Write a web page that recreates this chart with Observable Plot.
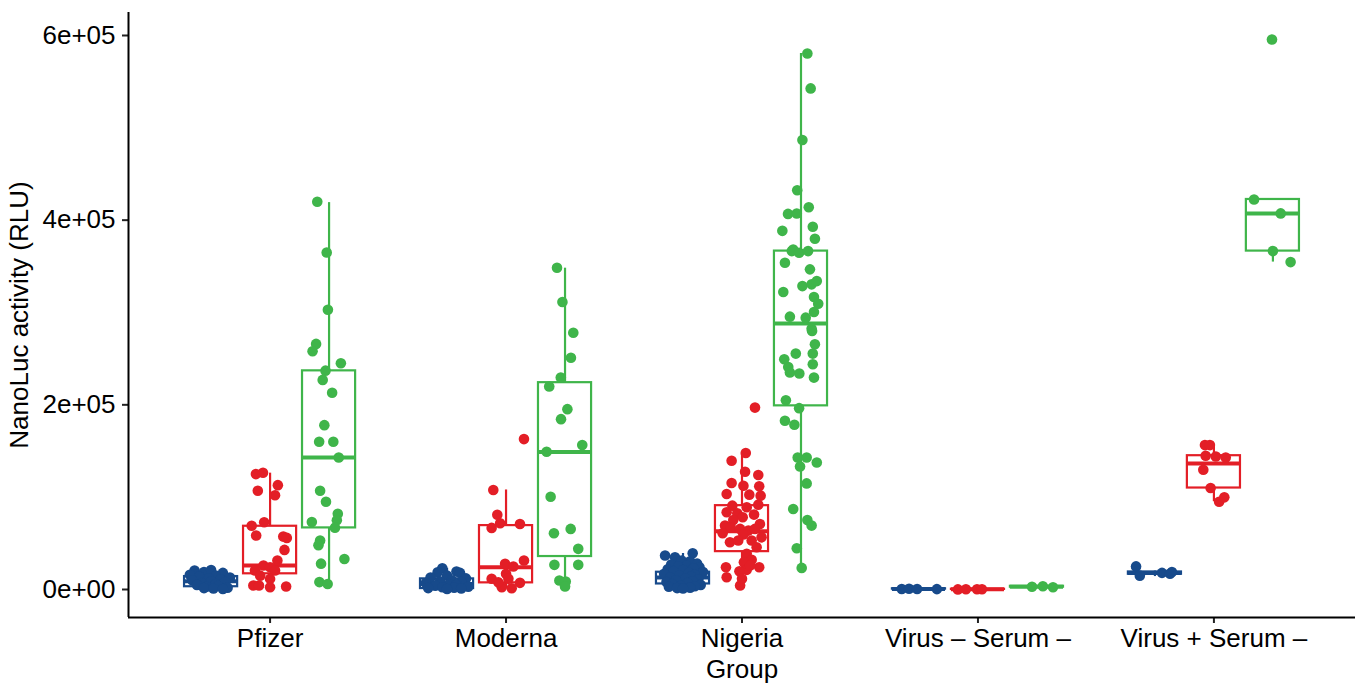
<!DOCTYPE html>
<html>
<head>
<meta charset="utf-8">
<script src="https://cdn.jsdelivr.net/npm/d3@7"></script>
<script src="https://cdn.jsdelivr.net/npm/@observablehq/plot@0.6"></script>
<style>
  html, body { margin: 0; padding: 0; background: #ffffff; }
  #chart svg { display: block; }
</style>
</head>
<body>
<div id="chart"></div>
<script>
// ---------- categories ----------
const groups = ["Pfizer", "Moderna", "Nigeria", "Virus – Serum –", "Virus + Serum –"];
const seriesNames = ["Series 1", "Series 2", "Series 3"];
const seriesColors = ["#174A8B", "#E31E26", "#3FB54A"];

// ---------- axis ticks ----------
const yTicks = [0, 200000, 400000, 600000];
const yTickLabels = ["0e+00", "2e+05", "4e+05", "6e+05"];

// ---------- observations: [value (RLU), horizontal jitter in category units] ----------
const pfizerBlue = [[20.5e3,-0.07],[19e3,-0.03],[21e3,0.0],[18e3,0.05],[16e3,-0.09],[15e3,0.02],[14e3,-0.05],[13e3,0.08],[12e3,-0.01],[11e3,0.04],[10e3,-0.08],[9e3,0.0],[8e3,0.06],[7e3,-0.04],[6e3,0.02],[5e3,-0.06],[4e3,0.03],[3e3,-0.02],[2e3,0.07],[1.5e3,-0.03],[1e3,0.01],[0.5e3,0.05]];
const pfizerRed = [[125e3,-0.06],[126.5e3,-0.03],[113e3,0.033],[107e3,-0.052],[102e3,0.021],[69e3,-0.078],[72.8e3,-0.025],[58.4e3,-0.059],[57.3e3,0.056],[55.9e3,0.071],[42.9e3,0.061],[31.4e3,0.031],[26e3,-0.028],[24e3,0.0],[20.5e3,-0.064],[20.5e3,0.021],[11.5e3,0.0],[4.3e3,-0.071],[4.3e3,-0.047],[2.5e3,0.0],[3.2e3,0.068],[15e3,-0.042]];
const pfizerGreen = [[420e3,-0.05],[365e3,-0.01],[303e3,-0.005],[266e3,-0.055],[258e3,-0.07],[245e3,0.05],[237e3,-0.015],[227e3,-0.027],[213e3,0.013],[178e3,-0.02],[160e3,-0.042],[160e3,0.018],[143e3,0.041],[107e3,-0.038],[95e3,-0.013],[82e3,0.037],[75e3,0.033],[73e3,-0.073],[67e3,0.025],[53e3,-0.038],[48e3,-0.045],[33e3,0.065],[28e3,-0.034],[8e3,-0.041],[6e3,-0.006]];

const modernaBlue = [[23e3,-0.02],[19.5e3,0.04],[18.7e3,-0.04],[18e3,0.055],[15e3,0.0],[13e3,-0.07],[12e3,0.08],[10e3,0.02],[9e3,-0.03],[8e3,0.06],[7e3,-0.09],[6e3,0.01],[5e3,0.04],[4e3,-0.05],[3e3,0.09],[2.5e3,-0.02],[2e3,0.03],[1.5e3,-0.08],[1e3,0.06],[0.5e3,0.0]];
const modernaRed = [[162.9e3,0.076],[107.8e3,-0.054],[81e3,-0.037],[66.7e3,-0.061],[71.7e3,-0.025],[71e3,0.059],[31.4e3,0.076],[27.8e3,-0.004],[24.9e3,0.031],[11.6e3,-0.061],[17e3,0.0],[7.2e3,0.059],[2.5e3,-0.018],[1.4e3,0.024],[7.9e3,-0.033],[11.6e3,0.01]];
const modernaGreen = [[348.4e3,-0.034],[311.4e3,-0.011],[278e3,0.035],[251e3,0.025],[229.5e3,-0.018],[219.8e3,-0.067],[195.3e3,0.01],[184.5e3,-0.017],[156.4e3,0.073],[149.2e3,-0.078],[100.5e3,-0.061],[65.6e3,0.024],[60.9e3,-0.047],[44e3,0.056],[26.7e3,-0.045],[26.7e3,0.056],[9.7e3,-0.024],[8.6e3,0.003],[3.2e3,0.0]];

const nigeriaBlue = [[36.8e3,-0.076],[35e3,-0.034],[39.3e3,0.041],[30.6e3,0.03],[31.4e3,-0.006],[28e3,0.06],[27e3,-0.05],[26e3,0.015],[25e3,-0.02],[24e3,0.07],[23e3,0.045],[22e3,-0.065],[21e3,0.0],[20e3,-0.04],[19e3,0.085],[18e3,0.025],[17e3,-0.08],[16e3,0.05],[15e3,-0.015],[14e3,0.035],[13e3,-0.055],[12e3,0.01],[11e3,0.065],[10e3,-0.03],[9e3,0.04],[8e3,-0.07],[7e3,0.02],[6e3,-0.045],[5e3,0.075],[4e3,-0.01],[3.5e3,0.05],[3e3,-0.06],[2e3,0.03],[1.5e3,-0.025],[1e3,0.0]];
const nigeriaRed = [[197e3,0.055],[147.8e3,0.016],[139.5e3,-0.044],[127.6e3,0.013],[124e3,0.069],[115.3e3,-0.044],[112.4e3,0.006],[111.7e3,0.073],[103.4e3,-0.065],[102.7e3,0.031],[101.6e3,0.079],[91.9e3,0.069],[90.8e3,-0.041],[89e3,0.02],[83.6e3,-0.065],[82.5e3,-0.02],[78.2e3,0.003],[81.1e3,0.051],[75.3e3,-0.037],[71e3,0.076],[69.2e3,-0.072],[67.4e3,-0.048],[65.6e3,-0.008],[63.8e3,0.027],[65.6e3,0.055],[60.9e3,-0.082],[59.5e3,0.006],[56.5e3,0.083],[51.1e3,-0.051],[53e3,-0.016],[53e3,0.041],[45.7e3,0.062],[38.6e3,0.02],[32.1e3,0.041],[29.5e3,0.008],[24.1e3,-0.068],[24.1e3,0.073],[21.3e3,0.02],[19.8e3,-0.011],[13.3e3,-0.065],[4.3e3,-0.008],[11.6e3,0.0],[26e3,0.034]];
const nigeriaGreen = [[580.5e3,0.027],[542.7e3,0.041],[486.8e3,0.006],[432.4e3,-0.016],[414e3,0.033],[406.8e3,-0.055],[407.2e3,-0.018],[392.8e3,0.05],[388.4e3,-0.079],[379.8e3,0.059],[368.3e3,-0.033],[366.5e3,-0.039],[364.7e3,-0.008],[366.5e3,0.03],[353.9e3,-0.068],[346.7e3,0.038],[328.6e3,0.006],[330.5e3,0.045],[334e3,0.067],[322.2e3,-0.075],[316.8e3,0.055],[309.5e3,0.073],[300.5e3,0.055],[295.5e3,-0.047],[294.4e3,0.02],[282.5e3,0.045],[280e3,0.047],[265.6e3,0.059],[255.5e3,-0.022],[255.5e3,0.05],[249.4e3,-0.071],[244e3,0.05],[241e3,-0.054],[235e3,-0.047],[233.9e3,-0.007],[229.5e3,0.055],[205e3,-0.064],[196.4e3,-0.008],[182.7e3,-0.068],[178.4e3,-0.028],[143e3,-0.014],[143e3,0.024],[133.3e3,-0.004],[137.6e3,0.067],[114.9e3,0.024],[87.2e3,-0.033],[75.3e3,0.027],[69.2e3,0.045],[44.6e3,-0.018],[23.4e3,0.003]];

const virusNegBlue = [[500,-0.073],[800,-0.042],[600,-0.008],[400,0.076]];
const virusNegRed = [[100,-0.085],[200,-0.051],[300,-0.004],[200,0.017]];
const virusNegGreen = [[3000,-0.021],[3500,0.025],[2500,0.068]];

const virusPosBlue = [[25e3,-0.08],[15e3,-0.064],[18e3,0.03],[17e3,0.064],[19e3,0.072]];
const virusPosRed = [[156.4e3,-0.038],[156.4e3,-0.017],[144.9e3,-0.035],[144.1e3,0.008],[143e3,0.05],[129.7e3,-0.045],[109.9e3,-0.014],[95.1e3,0.022],[99.8e3,0.044]];
const virusPosGreen = [[422.4e3,-0.08],[407.3e3,0.033],[366.5e3,0.0],[354.6e3,0.075],[595.7e3,-0.004]];

// ---------- box summaries: [lower whisker, Q1, median, Q3, upper whisker] per series ----------
const pfizerBox = [[500, 3e3, 9e3, 14e3, 21e3], [2e3, 17e3, 26e3, 68.5e3, 126e3], [6e3, 66.7e3, 143e3, 236.8e3, 419e3]];
const modernaBox = [[300, 1e3, 6e3, 11.5e3, 23e3], [1.4e3, 7.2e3, 24e3, 69.2e3, 107.8e3], [3.2e3, 35.7e3, 149e3, 224e3, 348e3]];
const nigeriaBox = [[500, 6e3, 13e3, 18.7e3, 39e3], [4.3e3, 41e3, 63e3, 90.8e3, 148e3], [22.4e3, 198.9e3, 288e3, 366.5e3, 580.5e3]];
const virusNegBox = [[300, 400, 600, 800, 900], [0, 100, 200, 300, 400], [2000, 2500, 3000, 3500, 4000]];
const virusPosBox = [[14e3, 16.5e3, 18e3, 19e3, 20e3], [95.1e3, 109.9e3, 136.5e3, 144.9e3, 156.4e3], [354.6e3, 366.5e3, 407.3e3, 422.4e3, 422.4e3]];

// ---------- assemble tables ----------
const pointSets = [
  [pfizerBlue, pfizerRed, pfizerGreen],
  [modernaBlue, modernaRed, modernaGreen],
  [nigeriaBlue, nigeriaRed, nigeriaGreen],
  [virusNegBlue, virusNegRed, virusNegGreen],
  [virusPosBlue, virusPosRed, virusPosGreen]
];
const boxSets = [pfizerBox, modernaBox, nigeriaBox, virusNegBox, virusPosBox];

const dodge = 0.25;      // series spacing within a group (category units)
const halfBox = 0.1125;  // half box width

const points = [];
const boxes = [];
groups.forEach((g, gi) => {
  seriesNames.forEach((s, si) => {
    const center = gi + (si - 1) * dodge;
    pointSets[gi][si].forEach(([v, j]) => points.push({group: g, series: s, x: center + j, v}));
    const [lo, q1, med, q3, hi] = boxSets[gi][si];
    boxes.push({group: g, series: s, x: center, x1: center - halfBox, x2: center + halfBox, lo, q1, med, q3, hi});
  });
});

const yMin = -30330, yMax = 624900;
const xMin = -0.6, xMax = 4.6;

const chart = Plot.plot({
  width: 1362,
  height: 685,
  marginLeft: 128,
  marginRight: 7,
  marginTop: 12,
  marginBottom: 68,
  style: {fontFamily: "'Liberation Sans', Arial, Helvetica, sans-serif", color: "#000", background: "#fff"},
  x: {type: "linear", domain: [xMin, xMax]},
  y: {domain: [yMin, yMax]},
  color: {domain: seriesNames, range: seriesColors},
  marks: [
    Plot.axisX({ticks: [0, 1, 2, 3, 4], tickFormat: (d) => groups[Math.round(d)], tickSize: 6, tickPadding: 5, fontSize: 26, strokeWidth: 2, stroke: "#222", label: "Group", labelAnchor: "center", labelArrow: "none", labelOffset: 60}),
    Plot.axisY({ticks: yTicks, tickFormat: (d) => yTickLabels[yTicks.indexOf(d)], tickSize: 6, tickPadding: 7, fontSize: 26, strokeWidth: 2, stroke: "#222", label: "NanoLuc activity (RLU)", labelAnchor: "center", labelArrow: "none", labelOffset: 119}),
    Plot.ruleX([xMin], {stroke: "#000", strokeWidth: 2}),
    Plot.ruleY([yMin], {stroke: "#000", strokeWidth: 2}),
    Plot.ruleX(boxes, {x: "x", y1: "lo", y2: "q1", stroke: "series", strokeWidth: 2.2}),
    Plot.ruleX(boxes, {x: "x", y1: "q3", y2: "hi", stroke: "series", strokeWidth: 2.2}),
    Plot.rect(boxes, {x1: "x1", x2: "x2", y1: "q1", y2: "q3", stroke: "series", fill: "white", strokeWidth: 2.2}),
    Plot.ruleY(boxes, {y: "med", x1: "x1", x2: "x2", stroke: "series", strokeWidth: 4}),
    Plot.dot(points, {x: "x", y: "v", fill: "series", r: 5.3, stroke: "none"})
  ]
});

document.getElementById("chart").appendChild(chart);
</script>
</body>
</html>
